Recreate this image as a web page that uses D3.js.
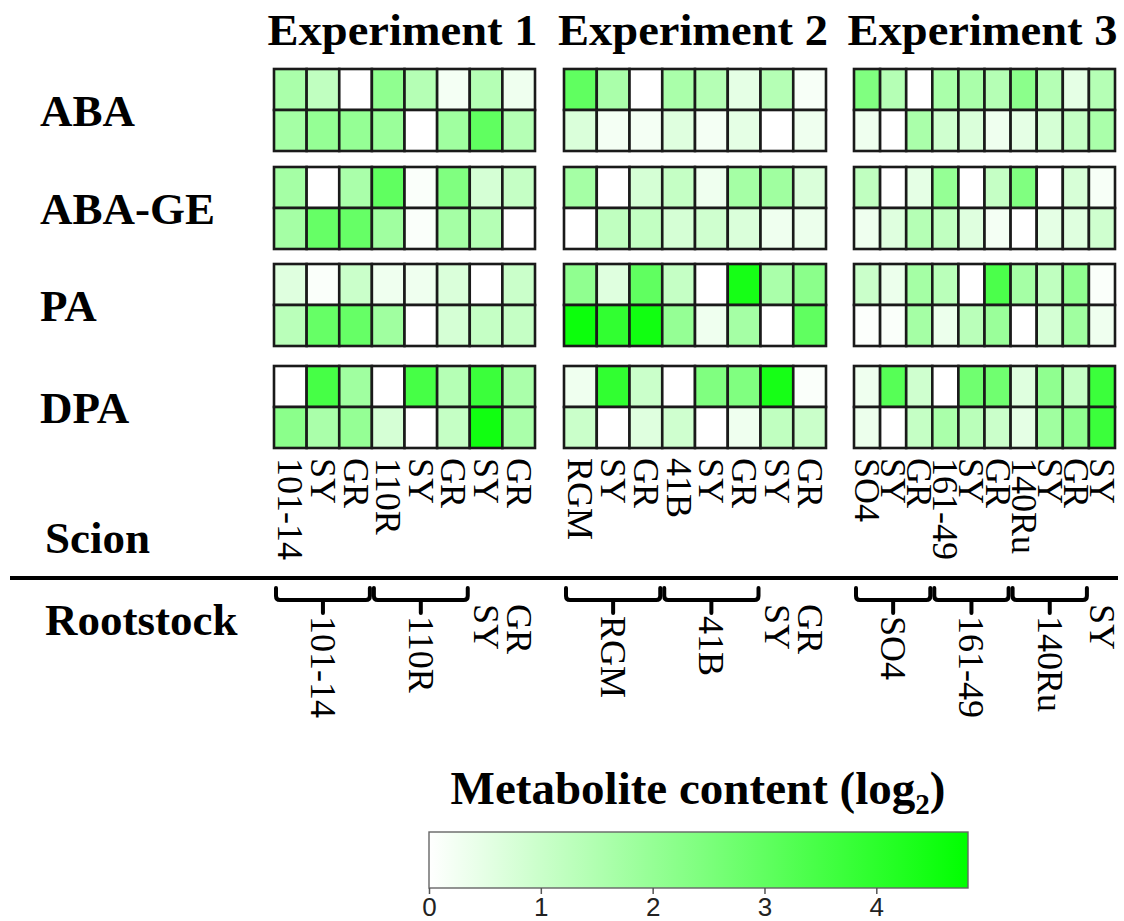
<!DOCTYPE html>
<html>
<head>
<meta charset="utf-8">
<script src="https://cdn.jsdelivr.net/npm/d3@7"></script>
<style>
  html, body { margin: 0; padding: 0; background: #fff; }
  svg { display: block; }
</style>
</head>
<body>
<svg id="chart" width="1124" height="921"></svg>
<script>
// ---- data -------------------------------------------------------------
const experiments = ["Experiment 1", "Experiment 2", "Experiment 3"];
const metabolites = ["ABA", "ABA-GE", "PA", "DPA"];

// scion genotype of each column, per experiment
const scion1 = ["101-14", "SY", "GR", "110R", "SY", "GR", "SY", "GR"];
const scion2 = ["RGM", "SY", "GR", "41B", "SY", "GR", "SY", "GR"];
const scion3 = ["SO4", "SY", "GR", "161-49", "SY", "GR", "140Ru", "SY", "GR", "SY"];

// rootstock groups: [first column, last column, label]
const root1 = [[0, 2, "101-14"], [3, 5, "110R"], [6, 6, "SY"], [7, 7, "GR"]];
const root2 = [[0, 2, "RGM"], [3, 5, "41B"], [6, 6, "SY"], [7, 7, "GR"]];
const root3 = [[0, 2, "SO4"], [3, 5, "161-49"], [6, 8, "140Ru"], [9, 9, "SY"]];

// metabolite content (log2), two rows per panel
const e1ABA   = [[1.6, 1.2, 0.0, 2.1, 1.4, 0.2, 1.4, 0.3], [1.7, 2.0, 2.0, 1.9, 0.0, 1.8, 3.0, 1.4]];
const e1ABAGE = [[1.7, 0.0, 1.6, 3.0, 0.1, 2.4, 0.8, 1.1], [1.7, 2.9, 2.9, 1.8, 0.1, 1.7, 1.4, 0.0]];
const e1PA    = [[0.6, 0.1, 1.0, 0.3, 0.3, 0.7, 0.0, 1.0], [1.3, 2.9, 2.9, 1.8, 0.0, 0.8, 1.1, 1.1]];
const e1DPA   = [[0.0, 3.5, 1.8, 0.0, 3.5, 1.4, 3.7, 1.6], [2.2, 1.6, 2.0, 0.8, 0.0, 1.1, 4.5, 1.6]];

const e2ABA   = [[3.0, 1.6, 0.0, 1.6, 1.4, 0.5, 1.4, 0.15], [0.7, 0.2, 0.2, 0.6, 0.2, 0.5, 0.0, 0.3]];
const e2ABAGE = [[1.7, 0.0, 0.8, 1.1, 0.3, 1.7, 1.8, 0.7], [0.0, 1.2, 1.15, 0.8, 0.9, 0.7, 0.3, 0.35]];
const e2PA    = [[2.1, 0.6, 3.0, 1.1, 0.0, 4.4, 1.6, 2.2], [4.6, 3.9, 4.5, 2.0, 0.3, 1.7, 0.0, 3.0]];
const e2DPA   = [[0.3, 3.9, 1.0, 0.0, 2.4, 2.4, 4.4, 0.1], [1.0, 0.0, 0.6, 0.9, 0.0, 0.3, 1.2, 1.0]];

const e3ABA   = [[2.4, 1.4, 0.0, 1.6, 1.6, 1.4, 2.2, 1.4, 0.5, 1.4], [0.3, 0.0, 1.6, 0.9, 0.7, 0.3, 0.5, 0.8, 1.1, 1.6]];
const e3ABAGE = [[1.2, 0.0, 0.5, 2.0, 0.0, 1.1, 2.4, 0.0, 0.75, 0.15], [0.3, 0.6, 1.4, 1.2, 0.6, 0.2, 0.0, 0.5, 0.6, 0.9]];
const e3PA    = [[1.0, 0.35, 1.7, 1.3, 0.0, 3.4, 1.7, 1.2, 2.1, 0.1], [0.05, 0.1, 1.7, 0.35, 1.3, 1.9, 0.0, 0.8, 1.8, 0.3]];
const e3DPA   = [[0.3, 3.2, 0.9, 0.0, 2.7, 2.7, 0.6, 2.1, 1.1, 3.7], [0.35, 0.0, 1.1, 1.6, 1.3, 1.0, 0.5, 1.8, 2.1, 3.7]];

const legendTicks = [0, 1, 2, 3, 4];
const legendMax = 4.82;

// ---- assembly ---------------------------------------------------------
const blocks = [
  { title: experiments[0], scion: scion1, roots: root1, values: [e1ABA, e1ABAGE, e1PA, e1DPA], x0: 274, x1: 535 },
  { title: experiments[1], scion: scion2, roots: root2, values: [e2ABA, e2ABAGE, e2PA, e2DPA], x0: 564, x1: 826 },
  { title: experiments[2], scion: scion3, roots: root3, values: [e3ABA, e3ABAGE, e3PA, e3DPA], x0: 854, x1: 1115 }
];

const panelTops = [69, 167, 264, 366];
const panelH = 82;

const serif = "'Liberation Serif', 'Times New Roman', Times, serif";
const sans = "'Liberation Sans', Arial, Helvetica, sans-serif";

const color = d3.scaleLinear().domain([0, legendMax]).range(["#ffffff", "#00ff00"]).interpolate(d3.interpolateRgb);

const svg = d3.select("#chart");

// metabolite labels
const rowBand = d3.scaleOrdinal().domain(metabolites).range(panelTops);
svg.selectAll("text.metab").data(metabolites).join("text")
  .attr("class", "metab")
  .attr("x", 40)
  .attr("y", d => rowBand(d) + panelH / 2 + 16)
  .attr("font-family", serif).attr("font-weight", "bold").attr("font-size", 45)
  .text(d => d);

blocks.forEach(b => {
  const x = d3.scaleBand().domain(d3.range(b.scion.length)).range([b.x0, b.x1]);
  const g = svg.append("g");

  // title
  g.append("text")
    .attr("x", (b.x0 + b.x1) / 2 - 2).attr("y", 45)
    .attr("text-anchor", "middle")
    .attr("font-family", serif).attr("font-weight", "bold").attr("font-size", 45)
    .attr("textLength", 270).attr("lengthAdjust", "spacingAndGlyphs")
    .text(b.title);

  // heatmap panels
  metabolites.forEach((m, mi) => {
    const y = d3.scaleBand().domain([0, 1]).range([panelTops[mi], panelTops[mi] + panelH]);
    const cells = [];
    b.values[mi].forEach((row, r) => row.forEach((v, c) => cells.push({ r, c, v })));
    g.append("g").selectAll("rect").data(cells).join("rect")
      .attr("x", d => x(d.c)).attr("y", d => y(d.r))
      .attr("width", x.bandwidth()).attr("height", y.bandwidth())
      .attr("fill", d => color(d.v))
      .attr("stroke", "#1a1a1a").attr("stroke-width", 2.6);
  });

  // scion labels
  g.append("g").selectAll("text").data(b.scion).join("text")
    .attr("transform", (d, i) => `translate(${x(i) + x.bandwidth() / 2},458) rotate(90)`)
    .attr("dominant-baseline", "central")
    .attr("font-family", serif).attr("font-size", 36)
    .text(d => d);

  // rootstock brackets and labels
  b.roots.forEach(([c0, c1, label]) => {
    const xa = x(c0), xb = x(c1) + x.bandwidth();
    const xm = (xa + xb) / 2;
    let ly = 604;
    if (c1 > c0) {
      const p = d3.path();
      p.moveTo(xa + 2, 588);
      p.lineTo(xa + 2, 596);
      p.quadraticCurveTo(xa + 2, 600, xa + 6, 600);
      p.lineTo(xb - 6, 600);
      p.quadraticCurveTo(xb - 2, 600, xb - 2, 596);
      p.lineTo(xb - 2, 588);
      p.moveTo(xm, 600);
      p.lineTo(xm, 613);
      g.append("path").attr("d", p.toString())
        .attr("fill", "none").attr("stroke", "#000").attr("stroke-width", 4)
        .attr("stroke-linecap", "round").attr("stroke-linejoin", "round");
      ly = 616;
    }
    g.append("text")
      .attr("transform", `translate(${xm},${ly}) rotate(90)`)
      .attr("dominant-baseline", "central")
      .attr("font-family", serif).attr("font-size", 36)
      .text(label);
  });
});

// side labels and separator
svg.append("text").attr("x", 45).attr("y", 553)
  .attr("font-family", serif).attr("font-weight", "bold").attr("font-size", 45).text("Scion");
svg.append("line").attr("x1", 10).attr("x2", 1118).attr("y1", 578).attr("y2", 578)
  .attr("stroke", "#000").attr("stroke-width", 4);
svg.append("text").attr("x", 45).attr("y", 635)
  .attr("font-family", serif).attr("font-weight", "bold").attr("font-size", 45).text("Rootstock");

// colour legend
const lx = d3.scaleLinear().domain([0, legendMax]).range([429, 968]);
const defs = svg.append("defs");
const grad = defs.append("linearGradient").attr("id", "legendGrad");
d3.range(0, 1.0001, 0.1).forEach(t => {
  grad.append("stop").attr("offset", t).attr("stop-color", color(t * legendMax));
});
const legTitle = svg.append("text")
  .attr("x", 698).attr("y", 804)
  .attr("text-anchor", "middle")
  .attr("font-family", serif).attr("font-weight", "bold").attr("font-size", 47);
legTitle.append("tspan").text("Metabolite content (log");
legTitle.append("tspan").attr("font-size", 29).attr("dy", 10).text("2");
legTitle.append("tspan").attr("dy", -10).text(")");

svg.append("rect")
  .attr("x", lx(0)).attr("y", 832)
  .attr("width", lx(legendMax) - lx(0)).attr("height", 56)
  .attr("fill", "url(#legendGrad)")
  .attr("stroke", "#666").attr("stroke-width", 1.4);

const axis = d3.axisBottom(lx).tickValues(legendTicks).tickSize(6).tickFormat(d3.format("d"));
const ax = svg.append("g").attr("transform", "translate(0,888)").call(axis);
ax.select(".domain").remove();
ax.selectAll(".tick line").attr("stroke", "#555").attr("stroke-width", 1.5);
ax.selectAll(".tick text")
  .style("font-family", sans).style("font-size", "26px").attr("fill", "#222").attr("dy", "0.72em");
</script>
</body>
</html>
